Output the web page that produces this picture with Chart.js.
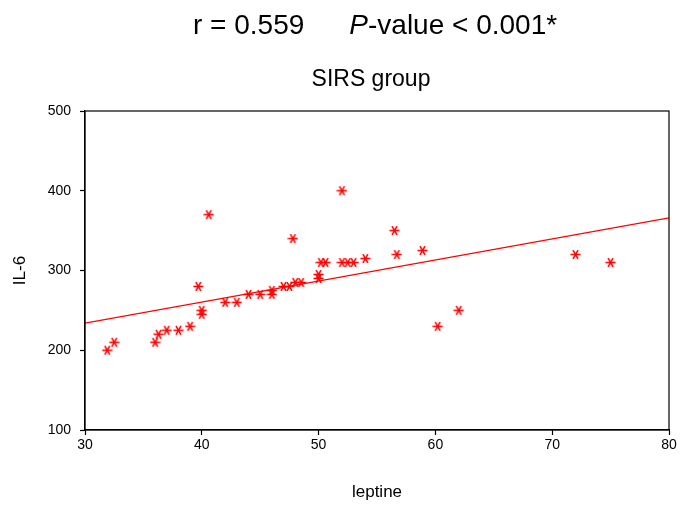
<!DOCTYPE html>
<html>
<head>
<meta charset="utf-8">
<script src="https://cdn.jsdelivr.net/npm/chart.js@4"></script>
<style>
  html, body { margin: 0; padding: 0; background: #fff; }
  #wrap { position: relative; width: 685px; height: 509px; }
  #head { position: absolute; left: 193px; top: 10px; font-family: "Liberation Sans", Arial, sans-serif; font-size: 28px; line-height: 30px; color: #000; white-space: nowrap; }
  #head .p { margin-left: 45px; }
  #sub { position: absolute; left: 271px; width: 200px; top: 65px; text-align: center; font-family: "Liberation Sans", Arial, sans-serif; font-size: 23px; line-height: 26px; color: #000; white-space: nowrap; }
  canvas { position: absolute; left: 0; top: 0; }
</style>
</head>
<body>
<div id="wrap">
  <canvas id="c" width="685" height="509"></canvas>
  <div id="head"><span>r = 0.559</span><span class="p"><i>P</i>-value &lt; 0.001*</span></div>
  <div id="sub">SIRS group</div>
</div>
<script>
const leptine = [31.9, 32.5, 36.0, 36.3, 37.0, 38.0, 39.0, 40.0, 40.0, 39.7, 40.6, 42.0, 43.0, 44.0, 45.0, 46.0, 46.0, 47.0, 47.5, 48.0, 48.5, 47.8, 50.0, 50.0, 50.2, 50.6, 52.0, 52.0, 52.5, 53.0, 54.0, 56.5, 56.7, 58.9, 60.2, 62.0, 72.0, 75.0];
const il6 = [200, 210, 210, 220, 225, 225, 230, 245, 250, 280, 370, 260, 260, 270, 270, 270, 275, 280, 280, 285, 285, 340, 290, 295, 310, 310, 400, 310, 310, 310, 315, 350, 320, 325, 230, 250, 320, 310];
const fitX = [30, 80];
const fitY = [234, 366];
const xTicks = [30, 40, 50, 60, 70, 80];
const yTicks = [100, 200, 300, 400, 500];

const FONT = '"Liberation Sans", Arial, sans-serif';

// six-armed asterisk marker (horizontal arm + two diagonals)
function makeAsterisk(size, color, lw) {
  const c = document.createElement('canvas');
  c.width = size; c.height = size;
  const ctx = c.getContext('2d');
  const r = size / 2 - 0.5, cx = size / 2, cy = size / 2;
  ctx.strokeStyle = color; ctx.lineWidth = lw; ctx.lineCap = 'butt';
  [0, 60, 120].forEach(deg => {
    const a = deg * Math.PI / 180;
    ctx.beginPath();
    ctx.moveTo(cx - r * Math.cos(a), cy - r * Math.sin(a));
    ctx.lineTo(cx + r * Math.cos(a), cy + r * Math.sin(a));
    ctx.stroke();
  });
  return c;
}
const marker = makeAsterisk(11, '#ff0000', 1.6);

const boxPlugin = {
  id: 'box',
  afterDraw(chart) {
    const a = chart.chartArea, ctx = chart.ctx;
    ctx.save();
    ctx.strokeStyle = '#000';
    ctx.lineWidth = 1.2;
    ctx.strokeRect(a.left, a.top, a.right - a.left, a.bottom - a.top);
    ctx.restore();
  }
};

const PAD = { top: 111, right: 16, left: 10, bottom: 6 };

new Chart(document.getElementById('c'), {
  type: 'scatter',
  data: {
    datasets: [
      {
        type: 'line',
        data: fitX.map((v, i) => ({ x: v, y: fitY[i] })),
        borderColor: '#ff0000',
        borderWidth: 1.3,
        pointRadius: 0,
        fill: false
      },
      {
        type: 'scatter',
        data: leptine.map((v, i) => ({ x: v, y: il6[i] })),
        pointStyle: marker,
        pointRadius: 5,
        borderColor: '#ff0000',
        backgroundColor: '#ff0000'
      }
    ]
  },
  options: {
    responsive: false,
    animation: false,
    devicePixelRatio: 1,
    layout: { padding: PAD },
    plugins: {
      legend: { display: false },
      tooltip: { enabled: false },
      title: { display: false }
    },
    scales: {
      x: {
        type: 'linear',
        min: 30, max: 80,
        afterBuildTicks(s) { s.ticks = xTicks.map(v => ({ value: v })); },
        afterFit(s) { s.height = 509 - 430 - PAD.bottom; },
        grid: { drawOnChartArea: false, color: '#000', tickLength: 5, tickWidth: 1.2 },
        border: { color: '#000', width: 1.2 },
        ticks: { color: '#000', font: { family: FONT, size: 14 }, padding: 2, maxRotation: 0 },
        title: { display: true, text: 'leptine', color: '#000', font: { family: FONT, size: 17 }, padding: { top: 28, bottom: 0 } }
      },
      y: {
        type: 'linear',
        min: 100, max: 500,
        afterBuildTicks(s) { s.ticks = yTicks.map(v => ({ value: v })); },
        afterFit(s) { s.width = 85 - PAD.left; },
        grid: { drawOnChartArea: false, color: '#000', tickLength: 5, tickWidth: 1.2 },
        border: { color: '#000', width: 1.2 },
        ticks: { color: '#000', font: { family: FONT, size: 14 }, padding: 9 },
        title: { display: true, text: 'IL-6', color: '#000', font: { family: FONT, size: 17 }, padding: { top: 0, bottom: 14 } }
      }
    }
  },
  plugins: [boxPlugin]
});
</script>
</body>
</html>
